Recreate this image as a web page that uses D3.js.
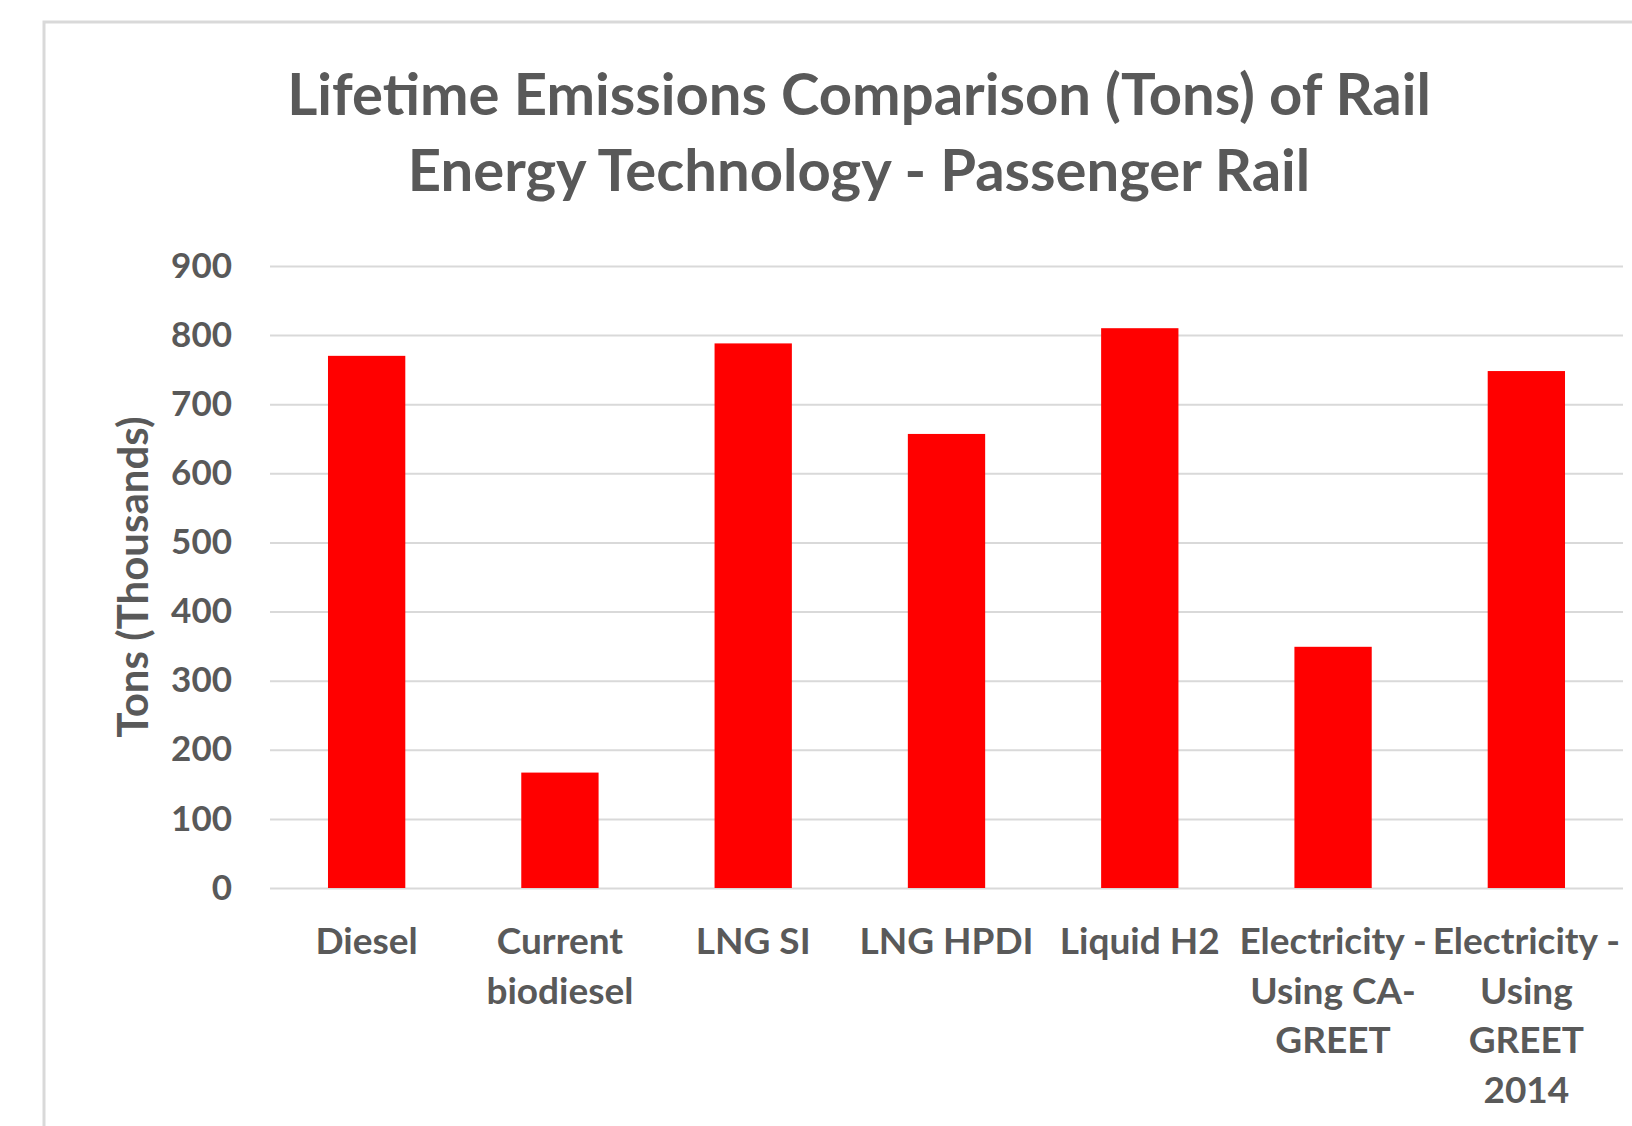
<!DOCTYPE html>
<html>
<head>
<meta charset="utf-8">
<script src="https://cdn.jsdelivr.net/npm/d3@7"></script>
<style>
  body { margin: 0; background: #fff; }
  svg { display: block; font-family: Lato, "Open Sans", sans-serif; }
</style>
</head>
<body>
<div id="chart"></div>
<script>
  // chart data
  const categories = [
    "Diesel",
    "Current biodiesel",
    "LNG SI",
    "LNG HPDI",
    "Liquid H2",
    "Electricity - Using CA-GREET",
    "Electricity - Using GREET 2014"
  ];
  // how each category label wraps under the axis
  const categoryLines = [
    ["Diesel"],
    ["Current", "biodiesel"],
    ["LNG SI"],
    ["LNG HPDI"],
    ["Liquid H2"],
    ["Electricity -", "Using CA-", "GREET"],
    ["Electricity -", "Using", "GREET", "2014"]
  ];
  const emissions = [770, 167, 788, 657, 810, 349, 748];
  const yTicks = [0, 100, 200, 300, 400, 500, 600, 700, 800, 900];
  const titleLines = [
    "Lifetime Emissions Comparison (Tons) of Rail",
    "Energy Technology - Passenger Rail"
  ];
  const yTitle = "Tons (Thousands)";

  const width = 1632;
  const height = 1126;
  const textColor = "#595959";
  const gridColor = "#d9d9d9";
  const barColor = "#ff0000";

  const plot = { left: 270, right: 1623, top: 266, bottom: 888 };

  const svg = d3.select("#chart")
    .append("svg")
    .attr("width", width)
    .attr("height", height);

  svg.append("rect")
    .attr("width", width)
    .attr("height", height)
    .attr("fill", "#fff");

  // chart area border (runs off the right and bottom edges)
  svg.append("rect")
    .attr("x", 44)
    .attr("y", 22)
    .attr("width", width + 100)
    .attr("height", height + 100)
    .attr("fill", "none")
    .attr("stroke", gridColor)
    .attr("stroke-width", 3);

  const x = d3.scaleBand()
    .domain(categories)
    .range([plot.left, plot.right])
    .paddingInner(0.6)
    .paddingOuter(0.3);

  const y = d3.scaleLinear()
    .domain([0, 900])
    .range([plot.bottom, plot.top]);

  // gridlines + y labels
  const yAxis = svg.append("g")
    .attr("transform", `translate(${plot.left},0)`)
    .call(
      d3.axisLeft(y)
        .tickValues(yTicks)
        .tickSize(-(plot.right - plot.left))
        .tickPadding(38)
    );
  yAxis.select(".domain").remove();
  yAxis.selectAll(".tick line")
    .attr("stroke", gridColor)
    .attr("stroke-width", 2);
  yAxis.selectAll(".tick text")
    .attr("fill", textColor)
    .style("font-size", "35px")
    .style("font-weight", "700")
    .style("font-family", "Lato, sans-serif");

  // bars
  svg.append("g")
    .selectAll("rect")
    .data(categories)
    .enter()
    .append("rect")
    .attr("x", d => x(d))
    .attr("width", x.bandwidth())
    .attr("y", (d, i) => y(emissions[i]))
    .attr("height", (d, i) => y(0) - y(emissions[i]))
    .attr("fill", barColor);

  // x labels
  const xLabels = svg.append("g")
    .selectAll("text")
    .data(categories)
    .enter()
    .append("text")
    .attr("x", d => x(d) + x.bandwidth() / 2)
    .attr("y", plot.bottom + 66)
    .attr("text-anchor", "middle")
    .attr("fill", textColor)
    .style("font-size", "37px")
    .style("font-weight", "700");

  xLabels.selectAll("tspan")
    .data((d, i) => categoryLines[i])
    .enter()
    .append("tspan")
    .attr("x", function() { return this.parentNode.getAttribute("x"); })
    .attr("dy", (d, i) => (i === 0 ? 0 : 49.5))
    .text(d => d);

  // title
  svg.append("g")
    .selectAll("text")
    .data(titleLines)
    .enter()
    .append("text")
    .attr("x", 859)
    .attr("y", (d, i) => 115 + i * 76)
    .attr("text-anchor", "middle")
    .attr("fill", textColor)
    .style("font-size", "58px")
    .style("font-weight", "700")
    .text(d => d);

  // y axis title
  svg.append("text")
    .attr("transform", `translate(148,${(plot.top + plot.bottom) / 2}) rotate(-90)`)
    .attr("text-anchor", "middle")
    .attr("fill", textColor)
    .style("font-size", "42px")
    .style("font-weight", "700")
    .text(yTitle);
</script>
</body>
</html>
